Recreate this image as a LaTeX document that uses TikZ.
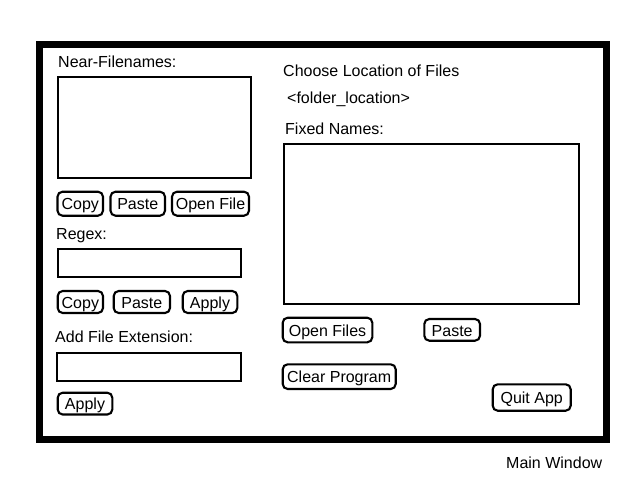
\documentclass[tikz,border=0pt]{standalone}
\usepackage{fontspec}
\setmainfont{Liberation Sans}
\usepackage{xcolor}
\usepackage{tikz}

\tikzset{
    label/.style={anchor=base west, inner sep=0pt},
    listbox/.style={rectangle, draw=black, line width=1.8pt},
    btn/.style={rectangle, draw=black, line width=2.1pt, rounded corners=5pt, inner sep=0pt, text height=12.5pt, text depth=0pt}
}

\begin{document}
\begin{tikzpicture}[x=1pt, y=-1pt, font=\fontsize{16}{19}\selectfont]

        \useasboundingbox (0,0) rectangle (640,480);

        %% Window
        \draw [line width=7pt] (39.5,44.5) rectangle (606.5,439.5);
        \node (mainlbl) [label] at (506,468) {Main Window};

        %% Left side labels
        \node (nearlbl) [label] at (58,67.5) {Near-Filenames:};
        \node (regexlbl) [label] at (56,239.5) {Regex:};
        \node (extlbl) [label] at (55,342.5) {Add File Extension:};

        %% Left side boxes
        \node (nearbox) [listbox, minimum width=193.6pt, minimum height=101.6pt] at (154.5,127.5) {};
        \node (regexbox) [listbox, minimum width=183pt, minimum height=28pt] at (149.2,263.3) {};
        \node (extbox) [listbox, minimum width=183.7pt, minimum height=28pt] at (148.85,366.7) {};

        %% Left side buttons
        \node (copyA) [btn, minimum width=45.5pt, minimum height=24pt] at (80.25,203.7) {Copy};
        \node (pasteA) [btn, minimum width=54.5pt, minimum height=24pt] at (137.75,203.7) {Paste};
        \node (openA) [btn, minimum width=77pt, minimum height=24pt] at (210.5,203.7) {Open File};
        \node (copyB) [btn, minimum width=45.3pt, minimum height=22pt] at (80.35,302) {Copy};
        \node (pasteB) [btn, minimum width=56.3pt, minimum height=22pt] at (141.85,302) {Paste};
        \node (applyB) [btn, minimum width=54.6pt, minimum height=22pt] at (210,302) {Apply};
        \node (applyC) [btn, minimum width=54.6pt, minimum height=21.8pt] at (85,403.6) {Apply};

        %% Right side labels
        \node (chooselbl) [label] at (283,76) {Choose Location of Files};
        \node (folderlbl) [label] at (287,103) {<folder\_location>};
        \node (fixedlbl) [label] at (285,134) {Fixed Names:};

        %% Right side box
        \node (fixedbox) [listbox, minimum width=294.7pt, minimum height=159.7pt] at (431.65,224.15) {};

        %% Right side buttons
        \node (openfiles) [btn, minimum width=89.6pt, minimum height=24.6pt] at (327.5,330) {Open Files};
        \node (pasteR) [btn, minimum width=55.7pt, minimum height=21.7pt] at (452.15,329.85) {Paste};
        \node (clearprog) [btn, minimum width=113pt, minimum height=24.7pt] at (339.2,376.65) {Clear Program};
        \node (quitapp) [btn, minimum width=78pt, minimum height=26.4pt] at (531.7,397.5) {Quit App};

    \end{tikzpicture}
\end{document}
